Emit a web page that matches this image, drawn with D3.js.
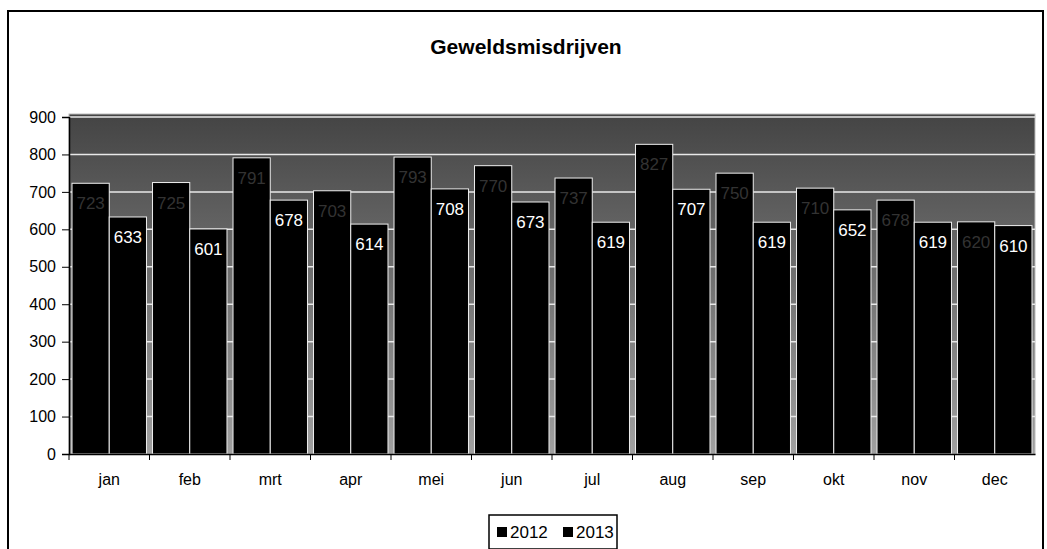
<!DOCTYPE html>
<html><head><meta charset="utf-8">
<script src="https://cdn.jsdelivr.net/npm/d3@7"></script>
<style>html,body{margin:0;padding:0;background:#fff;}svg{display:block;font-family:Arial,"Liberation Sans",sans-serif;}</style>
</head><body>
<svg id="chart" width="1047" height="549"></svg>
<script>
const months = ["jan","feb","mrt","apr","mei","jun","jul","aug","sep","okt","nov","dec"];
const series = ["2012","2013"];
const v2012 = [723,725,791,703,793,770,737,827,750,710,678,620];
const v2013 = [633,601,678,614,708,673,619,707,619,652,619,610];
const yTicks = [0,100,200,300,400,500,600,700,800,900];

const FONT = "Arial, 'Liberation Sans', sans-serif";
const svg = d3.select("#chart");
const L = 69, R = 1035, T = 117, B = 454;

const defs = svg.append("defs");
const grad = defs.append("linearGradient").attr("id","bg").attr("x1",0).attr("y1",0).attr("x2",0).attr("y2",1);
grad.append("stop").attr("offset","0%").attr("stop-color","#444");
grad.append("stop").attr("offset","100%").attr("stop-color","#a0a0a0");

// outer chart border
svg.append("path").attr("d","M8,549 L8,11 L1043,11 L1043,549")
  .attr("fill","none").attr("stroke","#000").attr("stroke-width",2);

svg.append("text").attr("x",526).attr("y",54).attr("text-anchor","middle")
  .attr("font-size",21).attr("font-weight","bold").text("Geweldsmisdrijven");

const x0 = d3.scaleBand().domain(months).range([L,R]).paddingInner(0.075).paddingOuter(0.0375);
const x1 = d3.scaleBand().domain(series).range([0,x0.bandwidth()]);
const y = d3.scaleLinear().domain([0,900]).range([B,T]);

svg.append("rect").attr("x",L).attr("y",T-3).attr("width",R-L).attr("height",B-T+3)
  .attr("fill","url(#bg)").attr("stroke","#bbb").attr("stroke-width",1);

svg.append("g").selectAll("line").data(yTicks.filter(d=>d>0)).join("line")
  .attr("x1",L).attr("x2",R).attr("y1",d=>y(d)).attr("y2",d=>y(d))
  .attr("stroke","#e8e8e8").attr("stroke-width",1.5);

const data = months.map((m,i)=>({m, vals:[{s:"2012",v:v2012[i]},{s:"2013",v:v2013[i]}]}));

const g = svg.append("g").selectAll("g").data(data).join("g")
  .attr("transform",d=>`translate(${x0(d.m)},0)`);
g.selectAll("rect").data(d=>d.vals).join("rect")
  .attr("x",d=>x1(d.s)).attr("y",d=>y(d.v))
  .attr("width",x1.bandwidth()).attr("height",d=>B-y(d.v))
  .attr("fill","#000").attr("stroke","#eee").attr("stroke-width",1);
g.selectAll("text").data(d=>d.vals).join("text")
  .attr("x",d=>x1(d.s)+x1.bandwidth()/2).attr("y",d=>y(d.v)+26)
  .attr("text-anchor","middle").attr("font-size",17)
  .attr("fill",d=>d.s==="2013"?"#fff":"#333")
  .text(d=>d.v);

// axes
const yAxis = d3.axisLeft(y).tickValues(yTicks).tickSize(7).tickPadding(6);
const ya = svg.append("g").attr("transform",`translate(${L},0)`).call(yAxis);
ya.select(".domain").attr("stroke","#000").attr("stroke-width",1.5);
ya.selectAll("text").attr("font-size",16).attr("fill","#000").attr("font-family",FONT);

const xa = svg.append("g").attr("transform",`translate(0,${B})`)
  .call(d3.axisBottom(x0).tickSize(0).tickPadding(20));
xa.select(".domain").attr("stroke","#000").attr("stroke-width",1.5);
xa.selectAll("text").attr("font-size",16).attr("fill","#000").attr("font-family",FONT);
// category boundary ticks
svg.append("g").selectAll("line").data(months.map((m,i)=>i)).join("line")
  .attr("x1",(d)=>x0(months[d])-x0.step()*x0.paddingInner()/2)
  .attr("x2",(d)=>x0(months[d])-x0.step()*x0.paddingInner()/2)
  .attr("y1",B).attr("y2",B+6).attr("stroke","#000");

// legend
const lg = svg.append("g").attr("transform","translate(489,515)");
lg.append("rect").attr("width",128).attr("height",34).attr("fill","#fff").attr("stroke","#000").attr("stroke-width",1.5);
series.forEach((s,i)=>{
  const ox = 8 + i*66;
  lg.append("rect").attr("x",ox).attr("y",12).attr("width",10).attr("height",10).attr("fill","#000");
  lg.append("text").attr("x",ox+13).attr("y",23).attr("font-size",17).text(s);
});
</script>
</body></html>
